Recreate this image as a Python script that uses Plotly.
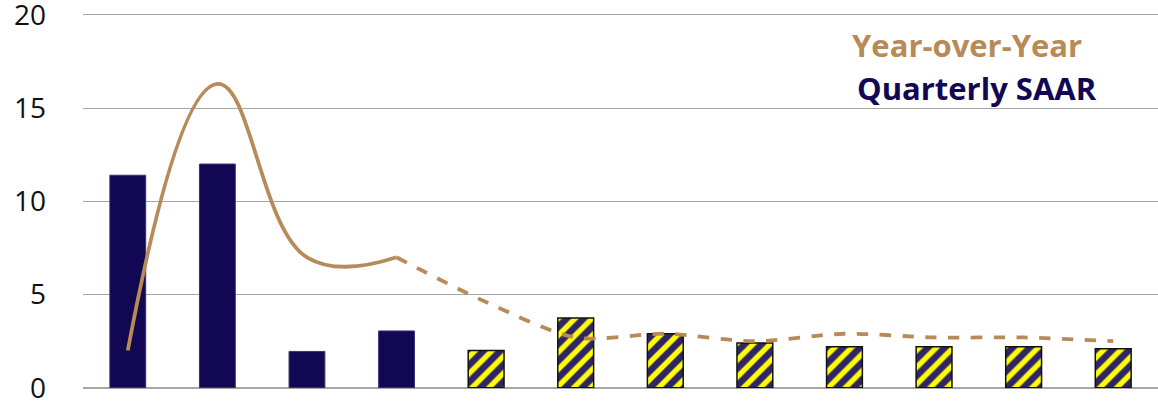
import plotly.graph_objects as go

quarters = list(range(12))
saar = [11.4, 12.0, 1.95, 3.05, 2.0, 3.75, 2.9, 2.4, 2.2, 2.2, 2.2, 2.1]
yoy = [2.0, 16.3, 7.0, 7.0, 4.6, 2.7, 2.9, 2.5, 2.9, 2.7, 2.7, 2.5]
n_actual = 4
y_ticks = [0, 5, 10, 15, 20]

NAVY = "#120752"
PAT_BG = "#2E2466"
TAN = "#B88A58"

fig = go.Figure()

fig.add_bar(
    x=quarters[:n_actual], y=saar[:n_actual],
    marker=dict(color=NAVY, line=dict(color="#3a3078", width=1)),
    showlegend=False,
)
fig.add_bar(
    x=quarters[n_actual:], y=saar[n_actual:],
    marker=dict(
        color=PAT_BG,
        line=dict(color="#111111", width=1.5),
        pattern=dict(shape="/", fgcolor="#FFFF00", bgcolor=PAT_BG, size=12,
                     solidity=0.45, fgopacity=1),
    ),
    showlegend=False,
)
fig.add_scatter(
    x=quarters[:n_actual], y=yoy[:n_actual], mode="lines",
    line=dict(color=TAN, width=3.8, shape="spline", smoothing=1.2),
    showlegend=False,
)
fig.add_scatter(
    x=quarters[n_actual - 1:], y=yoy[n_actual - 1:], mode="lines",
    line=dict(color=TAN, width=3.8, dash="dash", shape="spline", smoothing=0.8),
    showlegend=False,
)

fig.add_annotation(x=0.822, y=18.36, xref="paper", yref="y",
                   xanchor="center", yanchor="middle",
                   text="<b>Year-over-Year</b>", showarrow=False,
                   font=dict(family="Open Sans", size=31, color=TAN))
fig.add_annotation(x=0.832, y=16.09, xref="paper", yref="y",
                   xanchor="center", yanchor="middle",
                   text="<b>Quarterly SAAR</b>", showarrow=False,
                   font=dict(family="Open Sans", size=31, color=NAVY))

fig.update_layout(
    width=1158, height=404,
    margin=dict(l=83, r=0, t=13, b=16, autoexpand=False),
    plot_bgcolor="white", paper_bgcolor="white",
    bargap=0.6,
    font=dict(family="Open Sans", color="#111111"),
)
fig.update_xaxes(range=[-0.5, 11.5], showticklabels=False, showgrid=False,
                 zeroline=False, showline=False, automargin=False)
fig.update_yaxes(range=[-0.01, 20.1], tickvals=y_ticks, showgrid=True,
                 gridcolor="#A6A6A6", gridwidth=1.3, zeroline=True,
                 zerolinecolor="#A6A6A6", zerolinewidth=1.5,
                 tickfont=dict(size=28, color="#111111"),
                 ticklabelstandoff=36, ticklabeloverflow="allow",
                 automargin=False)

fig.write_html("out.html", config={"displayModeBar": False},
               post_script="document.body.style.margin='0';document.body.style.overflow='hidden';")
